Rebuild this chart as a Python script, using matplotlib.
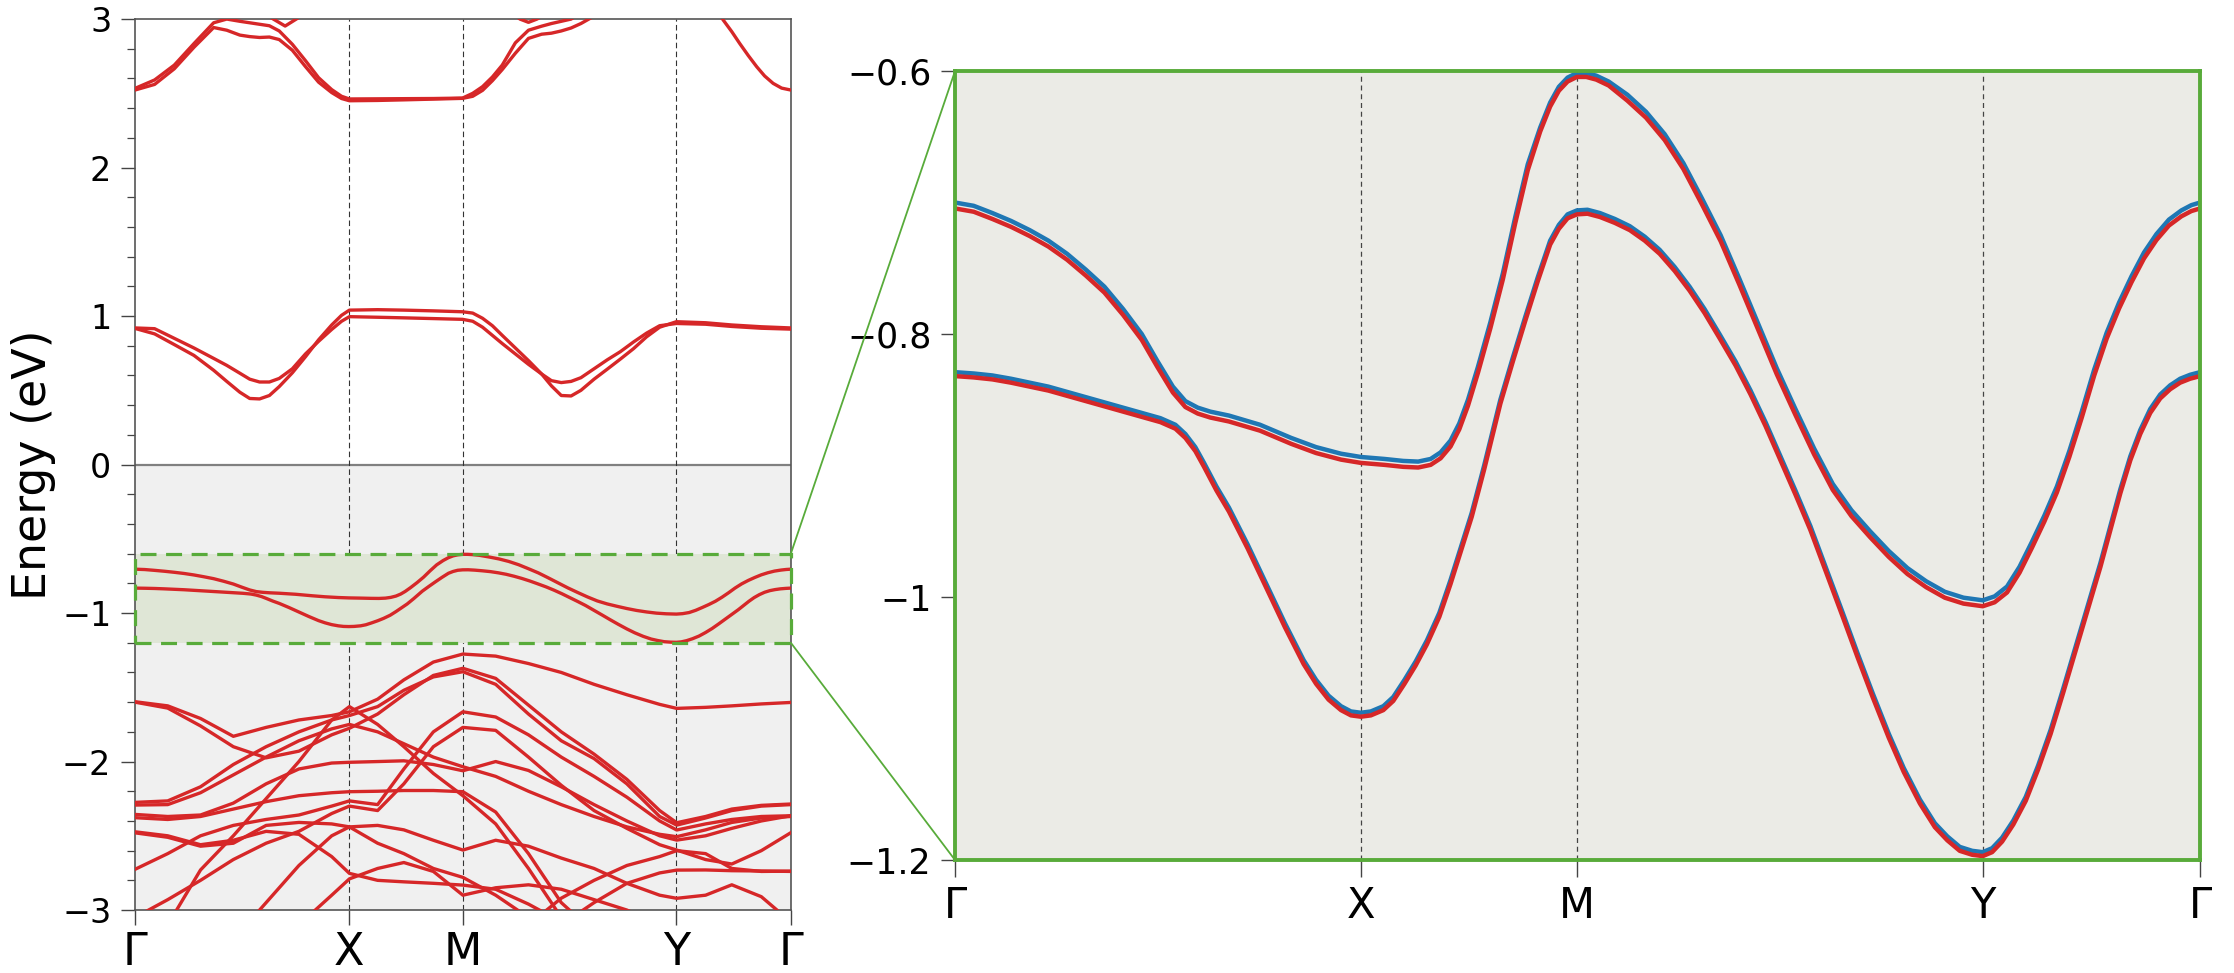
import numpy as np
import matplotlib.pyplot as plt
from matplotlib.patches import Rectangle, ConnectionPatch
from matplotlib.ticker import MultipleLocator

nan = np.nan

# k-path (fraction of total path length)
k_ticks = [0.0, 0.326, 0.4995, 0.8255, 1.0]
k_labels = ['Γ', 'X', 'M', 'Y', 'Γ']

# ---- top valence band pair shown in the zoom window (blue / red spin channels)
k_up = [0, .015, .03, .045, .06, .075, .09, .105, .12, .135,
        .15, .1625, .175, .185, .195, .205, .22, .245, .27, .29,
        .31, .326, .345, .36, .372, .382, .39, .398, .405, .412,
        .42, .43, .44, .45, .46, .47, .478, .485, .492, .4995,
        .507, .515, .525, .54, .555, .57, .585, .60, .615, .63,
        .645, .66, .675, .69, .705, .72, .735, .75, .765, .78,
        .795, .81, .8255, .835, .845, .855, .865, .875, .885, .895,
        .905, .915, .925, .935, .945, .955, .965, .975, .985, .993, 1.0]
up_blue = [-0.700, -0.7025, -0.708, -0.714, -0.721, -0.729, -0.739, -0.751, -0.764, -0.781,
           -0.800, -0.8205, -0.840, -0.851, -0.856, -0.859, -0.862, -0.869, -0.879, -0.886,
           -0.891, -0.8935, -0.895, -0.8965, -0.897, -0.895, -0.890, -0.881, -0.868, -0.850,
           -0.825, -0.791, -0.754, -0.711, -0.671, -0.643, -0.624, -0.612, -0.605, -0.6015,
           -0.6015, -0.6035, -0.608, -0.618, -0.631, -0.648, -0.670, -0.697, -0.725, -0.758,
           -0.792, -0.826, -0.857, -0.887, -0.914, -0.934, -0.950, -0.965, -0.978, -0.988,
           -0.996, -1.0005, -1.0025, -0.9995, -0.992, -0.977, -0.958, -0.938, -0.916, -0.889,
           -0.859, -0.827, -0.799, -0.776, -0.756, -0.738, -0.724, -0.713, -0.706, -0.702, -0.700]
up_red = [-0.7045, -0.707, -0.7125, -0.7185, -0.7255, -0.7335, -0.7435, -0.7555, -0.7685, -0.7855,
          -0.8045, -0.825, -0.8445, -0.8555, -0.8605, -0.8635, -0.8665, -0.8735, -0.8835, -0.8905,
          -0.8955, -0.898, -0.8995, -0.901, -0.9015, -0.8995, -0.8945, -0.8855, -0.8725, -0.8545,
          -0.8295, -0.7955, -0.7585, -0.7155, -0.6755, -0.646, -0.627, -0.615, -0.608, -0.6045,
          -0.6045, -0.6065, -0.611, -0.6225, -0.6355, -0.6525, -0.6745, -0.7015, -0.7295, -0.7625,
          -0.7965, -0.8305, -0.8615, -0.8915, -0.9185, -0.9385, -0.9545, -0.9695, -0.9825, -0.9925,
          -1.0005, -1.005, -1.007, -1.004, -0.9965, -0.9815, -0.9625, -0.9425, -0.9205, -0.8935,
          -0.8635, -0.8315, -0.8035, -0.7805, -0.7605, -0.7425, -0.7285, -0.7175, -0.7105, -0.7065, -0.7045]

k_lo = [0, .015, .03, .045, .06, .075, .09, .105, .12, .135,
        .15, .165, .177, .185, .193, .2, .21, .22, .235, .25,
        .265, .28, .29, .30, .31, .318, .326, .334, .344, .352,
        .361, .37, .379, .389, .398, .406, .415, .425, .438, .448,
        .458, .468, .478, .485, .492, .4995, .508, .518, .53, .542,
        .554, .566, .578, .59, .602, .614, .627, .639, .651, .663,
        .675, .687, .70, .713, .725, .737, .75, .762, .775, .787,
        .797, .807, .817, .8255, .833, .841, .85, .86, .87, .88,
        .89, .90, .91, .92, .928, .936, .944, .952, .96, .968,
        .976, .984, .992, 1.0]
lo_blue = [-0.829, -0.830, -0.8315, -0.834, -0.837, -0.840, -0.844, -0.848, -0.852, -0.856,
           -0.860, -0.864, -0.869, -0.876, -0.886, -0.898, -0.916, -0.932, -0.960, -0.990,
           -1.020, -1.048, -1.063, -1.075, -1.083, -1.087, -1.088, -1.087, -1.083, -1.076,
           -1.063, -1.049, -1.033, -1.012, -0.987, -0.963, -0.936, -0.900, -0.850, -0.818,
           -0.787, -0.757, -0.729, -0.717, -0.709, -0.706, -0.7055, -0.708, -0.7125, -0.718,
           -0.726, -0.736, -0.749, -0.764, -0.781, -0.800, -0.821, -0.843, -0.867, -0.893,
           -0.919, -0.946, -0.979, -1.012, -1.043, -1.073, -1.104, -1.130, -1.154, -1.172,
           -1.182, -1.190, -1.193, -1.194, -1.191, -1.183, -1.170, -1.152, -1.128, -1.101,
           -1.070, -1.038, -1.006, -0.974, -0.946, -0.918, -0.893, -0.873, -0.857, -0.846,
           -0.839, -0.834, -0.831, -0.829]
lo_red = [-0.832, -0.833, -0.8345, -0.837, -0.840, -0.843, -0.847, -0.851, -0.855, -0.859,
          -0.863, -0.867, -0.872, -0.879, -0.889, -0.901, -0.919, -0.935, -0.963, -0.993,
          -1.023, -1.051, -1.066, -1.078, -1.086, -1.090, -1.091, -1.090, -1.086, -1.079,
          -1.066, -1.052, -1.036, -1.015, -0.990, -0.966, -0.939, -0.903, -0.853, -0.821,
          -0.790, -0.760, -0.732, -0.720, -0.712, -0.709, -0.7085, -0.711, -0.7155, -0.721,
          -0.729, -0.739, -0.752, -0.767, -0.784, -0.803, -0.824, -0.846, -0.870, -0.896,
          -0.922, -0.949, -0.982, -1.015, -1.046, -1.076, -1.107, -1.133, -1.157, -1.175,
          -1.185, -1.193, -1.196, -1.197, -1.194, -1.186, -1.173, -1.155, -1.131, -1.104,
          -1.073, -1.041, -1.009, -0.977, -0.949, -0.921, -0.896, -0.876, -0.860, -0.849,
          -0.842, -0.837, -0.834, -0.832]

# ---- conduction bands
k_cond = [0, .03, .06, .09, .12, .14, .16, .175, .19, .205,
          .22, .24, .26, .28, .30, .315, .327, .37, .41, .455,
          .4995, .515, .53, .545, .56, .58, .60, .62, .635, .65,
          .665, .68, .70, .72, .74, .76, .78, .80, .8255, .87,
          .91, .955, 1.0]
cb1 = [0.917, 0.88, 0.808, 0.735, 0.635, 0.56, 0.487, 0.445, 0.442, 0.465,
       0.525, 0.618, 0.726, 0.84, 0.94, 1.005, 1.04, 1.043, 1.040, 1.035,
       1.029, 1.02, 0.985, 0.935, 0.87, 0.785, 0.70, 0.61, 0.53, 0.465,
       0.462, 0.50, 0.575, 0.642, 0.71, 0.78, 0.86, 0.925, 0.962, 0.955,
       0.94, 0.928, 0.92]
cb2 = [0.92, 0.915, 0.85, 0.785, 0.715, 0.668, 0.615, 0.575, 0.556, 0.556,
       0.58, 0.645, 0.745, 0.83, 0.91, 0.965, 0.996, 0.992, 0.988, 0.983,
       0.978, 0.965, 0.925, 0.87, 0.815, 0.745, 0.675, 0.61, 0.565, 0.552,
       0.56, 0.585, 0.645, 0.705, 0.76, 0.825, 0.885, 0.935, 0.950, 0.945,
       0.93, 0.918, 0.912]
cb3 = [2.522, 2.56, 2.665, 2.81, 2.943, 2.925, 2.892, 2.882, 2.876, 2.879,
       2.862, 2.79, 2.68, 2.575, 2.505, 2.465, 2.45, 2.452, 2.456, 2.461,
       2.466, 2.48, 2.52, 2.585, 2.66, 2.77, 2.87, 2.898, 2.905, 2.92,
       2.94, 2.97, 3.02, nan, nan, nan, nan, nan, nan, nan,
       nan, nan, nan]
cb4 = [2.533, 2.59, 2.69, 2.835, 2.975, 3.0, 2.985, 2.975, 2.965, 2.955,
       2.92, 2.83, 2.72, 2.605, 2.525, 2.48, 2.462, 2.463, 2.464, 2.465,
       2.468, 2.50, 2.545, 2.61, 2.69, 2.84, 2.925, 2.952, 2.97, 2.985,
       3.0, 3.04, nan, nan, nan, nan, nan, nan, nan, nan,
       nan, nan, nan]
k_cb5 = [0.88, 0.897, 0.91, 0.922, 0.935, 0.948, 0.96, 0.973, 0.986, 1.0]
cb5 = [3.1, 2.993, 2.915, 2.836, 2.755, 2.679, 2.617, 2.567, 2.535, 2.522]
k_cb6 = [0.19, 0.211, 0.229, 0.246, 0.26]
cb6 = [3.06, 3.0, 2.953, 3.0, 3.04]
k_cb7 = [0.575, 0.587, 0.600, 0.613, 0.625]
cb7 = [3.04, 3.0, 2.978, 3.0, 3.03]

# ---- lower valence bands
k_val = [0.0, 0.05, 0.10, 0.15, 0.20, 0.25, 0.30, 0.327, 0.37, 0.41, 0.455, 0.50,
         0.55, 0.60, 0.65, 0.70, 0.75, 0.80, 0.826, 0.87, 0.91, 0.955, 1.0]
vb1 = [-1.597, -1.625, -1.71, -1.83, -1.77, -1.72, -1.69, -1.665, -1.58, -1.45, -1.33, -1.276,
       -1.29, -1.34, -1.40, -1.48, -1.55, -1.615, -1.642, -1.635, -1.625, -1.612, -1.602]
vb2 = [-1.600, -1.64, -1.76, -1.90, -1.975, -1.93, -1.82, -1.776, -1.68, -1.55, -1.42, -1.372,
       -1.44, -1.62, -1.80, -1.95, -2.12, -2.33, -2.412, -2.37, -2.32, -2.295, -2.286]
vb3 = [-2.275, -2.265, -2.17, -2.02, -1.90, -1.80, -1.72, -1.69, -1.63, -1.52, -1.43, -1.395,
       -1.48, -1.68, -1.86, -1.98, -2.15, -2.37, -2.428, -2.38, -2.33, -2.30, -2.29]
vb4 = [-2.293, -2.29, -2.21, -2.09, -1.97, -1.86, -1.78, -1.75, -1.80, -1.88, -1.97, -2.035,
       -2.10, -2.20, -2.29, -2.37, -2.44, -2.49, -2.506, -2.46, -2.41, -2.38, -2.37]
vb5 = [-2.356, -2.37, -2.36, -2.28, -2.15, -2.05, -2.01, -2.005, -2.00, -1.995, -2.02, -2.062,
       -2.00, -2.06, -2.17, -2.29, -2.40, -2.50, -2.529, -2.50, -2.45, -2.40, -2.365]
vb6 = [-2.378, -2.39, -2.37, -2.32, -2.27, -2.23, -2.21, -2.203, -2.20, -2.195, -2.195, -2.203,
       -2.34, -2.62, -2.95, -3.15, nan, nan, nan, nan, nan, nan, nan]
vb7 = [-2.473, -2.50, -2.56, -2.53, -2.47, -2.49, -2.64, -2.753, -2.80, -2.81, -2.82, -2.832,
       -2.86, -2.96, -3.08, nan, nan, nan, nan, nan, nan, nan, nan]
vb8 = [-2.48, -2.51, -2.57, -2.55, -2.43, -2.41, -2.42, -2.44, -2.43, -2.46, -2.53, -2.596,
       -2.53, -2.57, -2.65, -2.72, -2.82, -2.90, -2.921, -2.90, -2.83, -2.91, -3.08]
vb9 = [-2.726, -2.62, -2.50, -2.43, -2.39, -2.36, -2.30, -2.265, -2.29, -2.05, -1.80, -1.665,
       -1.70, -1.82, -1.97, -2.10, -2.24, -2.40, -2.461, -2.42, -2.39, -2.37, -2.365]
vb10 = [-3.05, -2.93, -2.80, -2.66, -2.55, -2.47, -2.35, -2.30, -2.33, -2.15, -1.90, -1.77,
        -1.79, -1.97, -2.16, -2.33, -2.45, -2.56, -2.596, -2.66, -2.69, -2.60, -2.479]
vb11 = [nan, -3.10, -2.73, -2.50, -2.25, -2.00, -1.72, -1.63, -1.75, -1.90, -2.08, -2.23,
        -2.42, -2.72, -3.05, nan, nan, nan, nan, nan, nan, nan, nan]
vb12 = [nan, nan, nan, nan, nan, nan, nan, nan, nan, nan, nan, nan,
        nan, -3.10, -2.92, -2.80, -2.70, -2.64, -2.60, -2.62, -2.72, -2.74, -2.738]
vb13 = [nan, nan, nan, nan, nan, nan, nan, nan, nan, nan, nan, nan,
        nan, nan, -3.10, -2.95, -2.82, -2.75, -2.731, -2.73, -2.735, -2.737, -2.74]
vb14 = [nan, nan, nan, -3.20, -2.95, -2.70, -2.50, -2.44, -2.55, -2.62, -2.72, -2.78,
        -2.90, -3.05, nan, nan, nan, nan, nan, nan, nan, nan, nan]
vb15 = [nan, nan, nan, nan, nan, -3.10, -2.90, -2.79, -2.72, -2.68, -2.74, -2.90,
        -2.85, -2.83, -2.86, -2.93, -3.00, -3.10, nan, nan, nan, nan, nan]

valence = [vb1, vb2, vb3, vb4, vb5, vb6, vb7, vb8, vb9, vb10, vb11, vb12, vb13, vb14, vb15]

red = '#d62728'
blue = '#1f77b4'
green = '#58ab3a'
tick_col = '#444444'
lw_left = 2.4

plt.rcParams['font.family'] = ['DejaVu Sans']

fig = plt.figure(figsize=(22.34, 9.73), dpi=100)
ax1 = fig.add_axes([0.0604, 0.0647, 0.2936, 0.9157])
ax2 = fig.add_axes([0.4275, 0.1161, 0.5573, 0.8109])

# ---------------- left panel: full band structure
ax1.axhspan(-3, 0, color='#f0f0f0', zorder=0, lw=0)
ax1.axhline(0, color='#808080', lw=1.6, zorder=1)
for k in k_ticks[1:-1]:
    ax1.axvline(k, color='#333333', lw=0.8, ls=(0, (5, 3)), zorder=1)
ax1.add_patch(Rectangle((0, -1.2), 1, 0.6, facecolor='#dfe6d6', edgecolor='none', zorder=1))
ax1.add_patch(Rectangle((0, -1.2), 1, 0.6, facecolor='none', edgecolor=green,
                        lw=2.3, ls=(0, (5, 3)), zorder=4, clip_on=False))

for band in (cb1, cb2, cb3, cb4):
    ax1.plot(k_cond, band, color=red, lw=lw_left, zorder=3)
ax1.plot(k_cb5, cb5, color=red, lw=lw_left, zorder=3)
ax1.plot(k_cb6, cb6, color=red, lw=lw_left, zorder=3)
ax1.plot(k_cb7, cb7, color=red, lw=lw_left, zorder=3)
for band in valence:
    ax1.plot(k_val, band, color=red, lw=lw_left, zorder=3)
ax1.plot(k_up, up_red, color=red, lw=lw_left, zorder=3)
ax1.plot(k_lo, lo_red, color=red, lw=lw_left, zorder=3)

ax1.set_xlim(0, 1)
ax1.set_ylim(-3, 3)
ax1.set_xticks(k_ticks)
ax1.set_xticklabels(k_labels, fontsize=32)
ax1.set_yticks(range(-3, 4))
ax1.set_yticklabels(['−3', '−2', '−1', '0', '1', '2', '3'], fontsize=24)
ax1.yaxis.set_minor_locator(MultipleLocator(0.2))
ax1.tick_params(axis='y', which='major', direction='out', length=10, width=1, color=tick_col, pad=7)
ax1.tick_params(axis='y', which='minor', direction='out', length=6, width=0.9, color=tick_col)
ax1.tick_params(axis='x', direction='out', length=11, width=1, color=tick_col, pad=4)
ax1.set_ylabel('Energy (eV)', fontsize=33, labelpad=4)
for s in ax1.spines.values():
    s.set_color('#555555')
    s.set_linewidth(1.2)

# ---------------- right panel: zoom on the top valence bands
ax2.set_facecolor('#ebebe6')
for k in k_ticks[1:-1]:
    ax2.axvline(k, color='#444444', lw=0.9, ls=(0, (4, 3)), zorder=1)
ax2.plot(k_up, up_blue, color=blue, lw=3.2, zorder=3)
ax2.plot(k_lo, lo_blue, color=blue, lw=3.2, zorder=3)
ax2.plot(k_up, up_red, color=red, lw=3.2, zorder=4)
ax2.plot(k_lo, lo_red, color=red, lw=3.2, zorder=4)

ax2.set_xlim(0, 1)
ax2.set_ylim(-1.2, -0.6)
ax2.set_xticks(k_ticks)
ax2.set_xticklabels(k_labels, fontsize=30)
ax2.set_yticks([-1.2, -1.0, -0.8, -0.6])
ax2.set_yticklabels(['−1.2', '−1', '−0.8', '−0.6'], fontsize=25)
ax2.tick_params(axis='y', direction='out', length=10, width=1, color=tick_col, pad=7)
ax2.tick_params(axis='x', direction='out', length=12, width=1, color=tick_col, pad=6)
for s in ax2.spines.values():
    s.set_color(green)
    s.set_linewidth(2.8)
    s.set_zorder(5)

# connector lines between the window and the zoom panel
for e in (-0.6, -1.2):
    con = ConnectionPatch(xyA=(1, e), coordsA=ax1.transData,
                          xyB=(0, e), coordsB=ax2.transData,
                          color=green, lw=1.3)
    fig.add_artist(con)

fig.savefig('out.png', dpi=100)
